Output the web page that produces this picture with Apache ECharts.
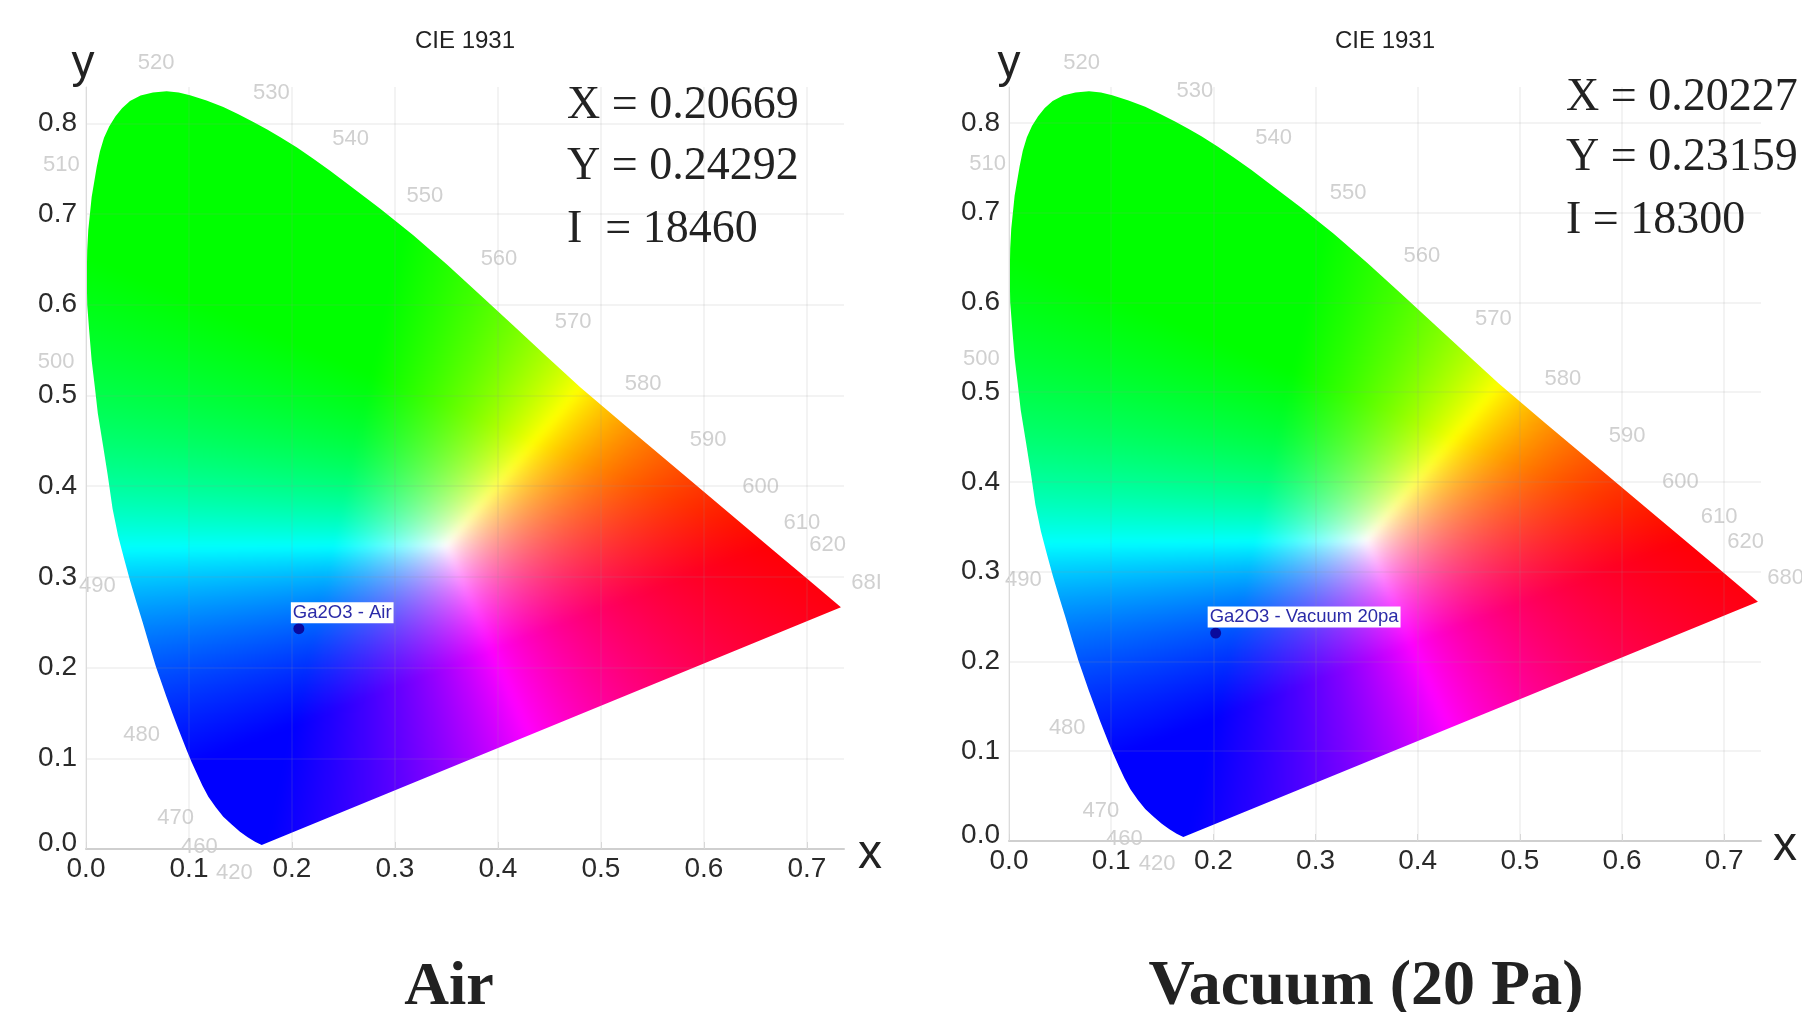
<!DOCTYPE html>
<html>
<head>
<meta charset="utf-8">
<style>html,body{margin:0;padding:0;background:#fff}#c{width:1802px;height:1012px}</style>
<script src="https://cdn.jsdelivr.net/npm/echarts@6/dist/echarts.min.js"></script>
</head>
<body>
<div id="c"></div>
<script>
// Spectral locus: [x, y]
const locus = [
[0.1706,0.0044],[0.1641,0.0080],[0.1570,0.0130],[0.1495,0.0191],[0.1415,0.0270],[0.1333,0.0356],[0.1260,0.0460],[0.1188,0.0576],[0.1130,0.0700],
[0.1075,0.0834],[0.1025,0.0960],[0.0977,0.1090],[0.0895,0.1327],[0.0838,0.1500],[0.0780,0.1680],[0.0725,0.1860],
[0.0680,0.2007],[0.0615,0.2250],[0.0550,0.2500],[0.0490,0.2720],[0.0430,0.2950],[0.0370,0.3200],[0.0312,0.3450],[0.0258,0.3750],[0.0210,0.4127],
[0.0165,0.4450],[0.0115,0.4800],[0.0085,0.5100],[0.0055,0.5384],[0.0032,0.5700],[0.0012,0.6000],[0.0007,0.6306],[0.0012,0.6600],[0.0022,0.6820],
[0.0055,0.7188],[0.0104,0.7518],[0.0135,0.7690],[0.0175,0.7840],[0.0225,0.7965],[0.0285,0.8075],[0.0350,0.8165],[0.0427,0.8245],[0.0530,0.8305],
[0.0650,0.8340],[0.0783,0.8353],[0.0900,0.8340],[0.1010,0.8309],[0.1170,0.8250],[0.1333,0.8180],[0.1480,0.8100],[0.1625,0.8015],[0.1755,0.7935],
[0.1883,0.7850],[0.2045,0.7735],[0.2207,0.7610],[0.2370,0.7478],[0.2531,0.7340],[0.2854,0.7060],[0.3178,0.6766],[0.3502,0.6445],[0.3825,0.6110],
[0.4149,0.5770],[0.4473,0.5430],[0.4796,0.5094],[0.5250,0.4655],[0.5752,0.4175],[0.6270,0.3680],[0.6658,0.3308],[0.7000,0.2982],[0.7330,0.2665]
];
// Wavelength labels: [text, x, y]
const wavelengthsAir = [
['520',0.068,0.866],['530',0.180,0.834],['540',0.257,0.783],['550',0.329,0.720],['560',0.401,0.651],['570',0.473,0.581],
['580',0.541,0.513],['590',0.604,0.451],['600',0.655,0.399],['610',0.695,0.359],['620',0.720,0.335],['68I',0.758,0.293],
['510',-0.024,0.754],['500',-0.029,0.537],['490',0.011,0.290],['480',0.054,0.126],['470',0.087,0.034],['460',0.110,0.002],['420',0.144,-0.026]
];
const wavelengthsVacuum = [
['520',0.071,0.867],['530',0.182,0.836],['540',0.259,0.783],['550',0.332,0.722],['560',0.404,0.652],['570',0.474,0.582],
['580',0.542,0.515],['590',0.605,0.451],['600',0.657,0.400],['610',0.695,0.361],['620',0.721,0.333],['680',0.760,0.293],
['510',-0.021,0.754],['500',-0.027,0.537],['490',0.014,0.291],['480',0.057,0.126],['470',0.090,0.033],['460',0.113,0.002],['420',0.145,-0.026]
];
// Measured points
const pointAir = {name:'Ga2O3 - Air', value:[0.20669,0.24292]};
const pointVacuum = {name:'Ga2O3 - Vacuum 20pa', value:[0.20227,0.23159]};
const readoutAir = ['X = 0.20669','Y = 0.24292','I  = 18460'];
const readoutVacuum = ['X = 0.20227','Y = 0.23159','I = 18300'];

// Colour field: each channel is a plane over (x, y), clamped at 0 and normalised by the largest channel
const channelR = p => (p[0]-0.24-0.196*(p[1]-0.335))/0.11;
const channelG = p => ((p[1]-0.213)-0.43*(p[0]-0.382))/0.1358;
const channelB = p => (0.5-0.47*(p[0]-0.33)-p[1])/0.1556;
const FIELD_X = 0.74, FIELD_Y = 0.84;
function buildField(){
  const W=740,H=840,cv=document.createElement('canvas');cv.width=W;cv.height=H;
  const ctx=cv.getContext('2d'),img=ctx.createImageData(W,H),d=img.data;
  for(let j=0;j<H;j++){
    const y=FIELD_Y*(1-(j+.5)/H);
    for(let i=0;i<W;i++){
      const q=[FIELD_X*(i+.5)/W,y];
      const r=Math.max(0,channelR(q)),g=Math.max(0,channelG(q)),b=Math.max(0,channelB(q));
      const m=Math.max(r,g,b,1e-6),p=(j*W+i)*4;
      d[p]=255*r/m;d[p+1]=255*g/m;d[p+2]=255*b/m;d[p+3]=255;
    }
  }
  ctx.putImageData(img,0,0);
  const soft=document.createElement('canvas');soft.width=W;soft.height=H;
  const sc=soft.getContext('2d');sc.drawImage(cv,0,0);sc.filter='blur(3px)';sc.drawImage(cv,0,0);
  return soft;
}
const field=buildField();

const SANS='"Liberation Sans",Arial,sans-serif',SERIF='"Liberation Serif","Times New Roman",serif';
const panels=[
 {left:86,width:758,top:87,height:762,points:pointAir,wl:wavelengthsAir},
 {left:1009,width:752,top:87,height:754,points:pointVacuum,wl:wavelengthsVacuum}
];
const tickFont={fontFamily:SANS,fontSize:28,color:'#2a2a2a'};
const gridLine={show:true,showMaxLine:false,lineStyle:{color:'rgba(150,150,150,0.15)',width:1.5}};
const grid=[],xAxis=[],yAxis=[],series=[];
panels.forEach((p,i)=>{
  grid.push({left:p.left,top:p.top,width:p.width,height:p.height});
  xAxis.push({type:'value',gridIndex:i,min:0,max:0.736,interval:0.1,z:5,
    name:'{a|x}',nameLocation:'end',nameGap:i?12:14,
    nameTextStyle:{verticalAlign:'middle',rich:{a:{fontFamily:SANS,fontSize:48,color:'#222',padding:[12,0,0,0]}}},
    axisLine:{show:true,onZero:false,lineStyle:{color:'#cfcfcf',width:2}},
    axisTick:{show:true,inside:true,length:7,lineStyle:{color:'#d8d8d8'}},
    axisLabel:Object.assign({margin:6,showMaxLabel:false,formatter:v=>v.toFixed(1)},tickFont),
    splitLine:gridLine});
  yAxis.push({type:'value',gridIndex:i,min:0,max:0.84,interval:0.1,z:5,
    name:'y',nameLocation:'end',nameGap:0,
    nameTextStyle:{fontFamily:SANS,fontSize:46,color:'#222',align:'center',verticalAlign:'bottom',padding:[0,i?0:6,0,0]},
    axisLine:{show:true,onZero:false,lineStyle:{color:'#dcdcdc',width:1}},
    axisTick:{show:false},
    axisLabel:Object.assign({margin:9,showMaxLabel:false,formatter:v=>v===0?'{z|0.0}':v.toFixed(1),
      rich:{z:Object.assign({padding:[0,0,12,0]},tickFont)}},tickFont),
    splitLine:gridLine});
  series.push({type:'custom',xAxisIndex:i,yAxisIndex:i,clip:false,silent:true,z:2,
    encode:{x:0,y:1},data:locus,
    renderItem(params,api){
      if(params.dataIndex!==0)return null;
      const tl=api.coord([0,FIELD_Y]),br=api.coord([FIELD_X,0]);
      return {type:'image',style:{image:field,x:tl[0],y:tl[1],width:br[0]-tl[0],height:br[1]-tl[1]},
        clipPath:{type:'polygon',shape:{points:locus.map(q=>api.coord(q))}}};
    }});
  series.push({type:'scatter',xAxisIndex:i,yAxisIndex:i,clip:false,silent:true,z:3,symbolSize:0,
    data:p.wl.map(w=>({name:w[0],value:[w[1],w[2]]})),
    label:{show:true,position:'inside',formatter:'{b}',fontFamily:SANS,fontSize:22,color:'#c4c4c4'}});
  series.push({type:'scatter',xAxisIndex:i,yAxisIndex:i,clip:false,silent:true,z:8,symbolSize:11,
    itemStyle:{color:'#0a0a9c',opacity:1},data:[p.points],
    label:{show:true,position:'top',align:'left',distance:0,offset:[-8,0],formatter:'{b}',fontFamily:SANS,fontSize:18.5,
      color:'#2b2ba8',backgroundColor:'#fff',padding:[1,2]}});
});
// baseline: y of the letters' foot, placed with the box top at about 0.82 em above it
function base(text,x,y,font,size,opt){
  return {type:'text',z:10,x:x,y:y-0.82*size,style:Object.assign({text:text,fontFamily:font,fontSize:size,fill:'#222'},opt||{})};
}
function mid(text,x,y,size){
  return {type:'text',z:10,x:x,y:y,style:{text:text,fontFamily:SANS,fontSize:size,fill:'#222',align:'center',verticalAlign:'middle'}};
}
const graphic=[
 mid('CIE 1931',465,41,24),
 mid('CIE 1931',1385,41,24),
 base(readoutAir[0],567,121,SERIF,46),base(readoutAir[1],567,182,SERIF,46),base(readoutAir[2],567,245,SERIF,46),
 base(readoutVacuum[0],1566,113,SERIF,46),base(readoutVacuum[1],1566,173,SERIF,46),base(readoutVacuum[2],1566,236,SERIF,46),
 base('Air',449,1008,SERIF,62,{align:'center',fontWeight:'bold'}),
 base('Vacuum (20 Pa)',1366,1008,SERIF,64,{align:'center',fontWeight:'bold'})
];
const chart=echarts.init(document.getElementById('c'),null,{renderer:'canvas'});
chart.setOption({animation:false,backgroundColor:'#fff',grid,xAxis,yAxis,series,graphic});
</script>
</body>
</html>
